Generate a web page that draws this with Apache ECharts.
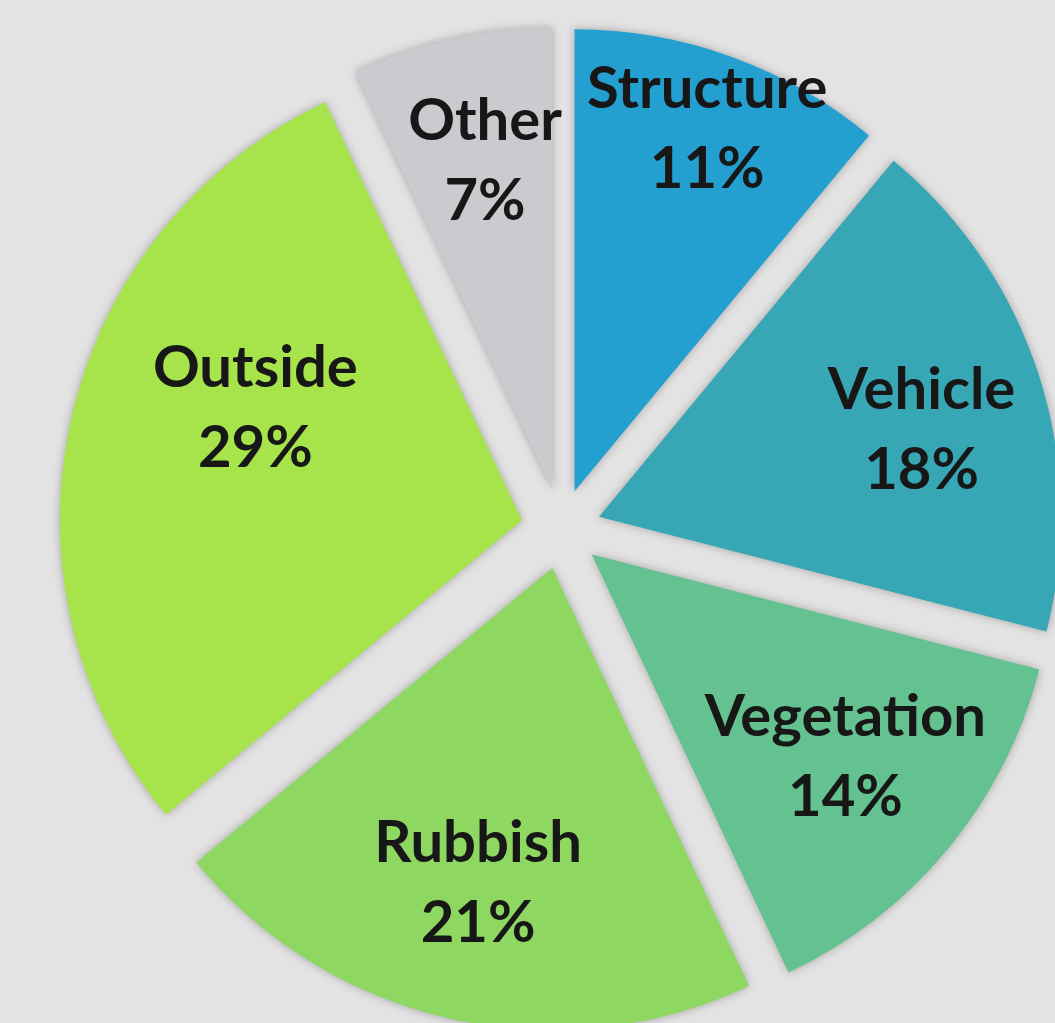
<!DOCTYPE html>
<html>
<head>
<meta charset="utf-8">
<script src="https://cdn.jsdelivr.net/npm/echarts@6/dist/echarts.min.js"></script>
<style>
  html, body { margin: 0; padding: 0; background: #e3e3e3; }
  #chart { width: 1055px; height: 1023px; }
</style>
</head>
<body>
<div id="chart"></div>
<script>
var categories = ['Structure', 'Vehicle', 'Vegetation', 'Rubbish', 'Outside', 'Other'];
var shares = [11, 18, 14, 21, 29, 7];
var sliceColors = ['#239fd0', '#38a7b5', '#63c28f', '#8ed862', '#a7e34b', '#cacacf'];
// label shift [dx, dy] so the text sits where the original put it
var labelNudge = [[22, -55], [12, 15], [2, -5], [-3, -3], [52, -41], [4, -10]];

var chart = echarts.init(document.getElementById('chart'));

var sliceData = categories.map(function (name, i) {
    return {
        name: name,
        value: shares[i],
        selected: true,
        itemStyle: { color: sliceColors[i] }
    };
});

var labelData = categories.map(function (name, i) {
    return { name: name, value: shares[i], selected: true };
});

var option = {
    backgroundColor: '#e3e3e3',
    animation: false,
    series: [{
        type: 'pie',
        center: [561, 529],
        radius: [0, 462],
        startAngle: 90,
        clockwise: true,
        selectedMode: 'multiple',
        selectedOffset: 40,
        silent: true,
        label: { show: false },
        labelLine: { show: false },
        itemStyle: {
            borderWidth: 0,
            shadowBlur: 10,
            shadowColor: 'rgba(0,0,0,0.28)'
        },
        select: { itemStyle: { borderWidth: 0 } },
        data: sliceData
    }, {
        // transparent ring that only carries the labels
        type: 'pie',
        center: [561, 529],
        radius: [185, 462],
        startAngle: 90,
        clockwise: true,
        selectedMode: 'multiple',
        selectedOffset: 40,
        silent: true,
        itemStyle: { color: 'transparent', borderWidth: 0 },
        select: { itemStyle: { color: 'transparent', borderWidth: 0 } },
        label: {
            show: true,
            position: 'inside',
            formatter: '{b}\n{d}%',
            color: '#171717',
            fontFamily: 'Lato',
            fontWeight: 'bold',
            fontSize: 58,
            lineHeight: 80,
            align: 'center'
        },
        labelLine: { show: false },
        labelLayout: function (params) {
            var n = labelNudge[params.dataIndex];
            return { dx: n[0], dy: n[1] };
        },
        data: labelData
    }]
};
chart.setOption(option);
</script>
</body>
</html>
